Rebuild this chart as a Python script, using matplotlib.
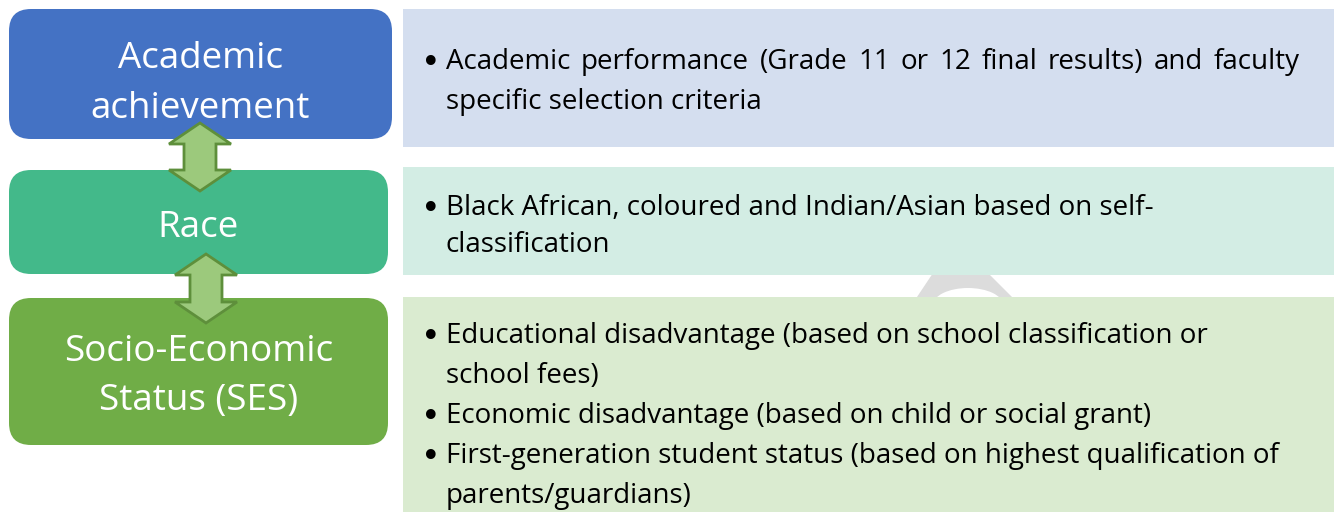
import matplotlib
matplotlib.use("Agg")
import matplotlib.pyplot as plt
from matplotlib.patches import FancyBboxPatch, Polygon, Rectangle, Ellipse

# categories (left boxes) and their criteria (right boxes)
categories = ["Academic\nachievement", "Race", "Socio-Economic\nStatus (SES)"]
criteria = [
    [["Academic performance (Grade 11 or 12 final results) and faculty",
      "specific selection criteria"]],
    [["Black African, coloured and Indian/Asian based on self-",
      "classification"]],
    [["Educational disadvantage (based on school classification or",
      "school fees)"],
     ["Economic disadvantage (based on child or social grant)"],
     ["First-generation student status (based on highest qualification of",
      "parents/guardians)"]],
]
justify_first = [True, False, False]

# layout (pixels)
W, H = 1341, 512
left_boxes = [(9, 9, 383, 130), (9, 170, 379, 104), (9, 298, 379, 147)]
label_shift = [10, 6, 5]
right_boxes = [(403, 9, 931, 138), (403, 167, 931, 108), (403, 297, 931, 230)]
baseline_top = [69, 215, 343]
line_step = [40, 37, 40]
dark = ["#4472C4", "#43B98A", "#70AD47"]
light = ["#D4DEEF", "#D3EDE4", "#DAEBD0"]
arrows = [(200, 123, 191), (206, 254, 323)]
FONT = "Open Sans"
FS = 20

fig = plt.figure(figsize=(W / 100, H / 100), dpi=100)
ax = fig.add_axes([0, 0, 1, 1])
ax.set_xlim(0, W)
ax.set_ylim(H, 0)
ax.axis("off")

# faint watermark behind the boxes
ax.add_patch(Polygon([(935, 270), (985, 270), (1015, 300), (915, 300)],
                     closed=True, fc="#DCDCDC", ec="none", zorder=0))
ax.add_patch(Ellipse((968, 305), 70, 34, fc="white", ec="none", zorder=0.5))

for (x, y, w, h), c in zip(right_boxes, light):
    ax.add_patch(Rectangle((x, y), w, h, fc=c, ec="none", zorder=1))

for (x, y, w, h), c, label, dy in zip(left_boxes, dark, categories, label_shift):
    ax.add_patch(FancyBboxPatch((x, y), w, h,
                                boxstyle="round,pad=0,rounding_size=22",
                                fc=c, ec="none", zorder=2))
    ax.text(x + w / 2, y + h / 2 + dy, label, color="white", fontsize=26.5,
            family=FONT, ha="center", va="center", linespacing=1.5,
            zorder=3)

fig.canvas.draw()
renderer = fig.canvas.get_renderer()


def draw_line(x0, x1, y, s, justify):
    if not justify:
        ax.text(x0, y, s, fontsize=FS, family=FONT, va="baseline",
                color="black", zorder=4)
        return
    words = s.split(" ")
    widths = []
    for wd in words:
        t = ax.text(0, 0, wd, fontsize=FS, family=FONT)
        widths.append(t.get_window_extent(renderer).width)
        t.remove()
    gap = (x1 - x0 - sum(widths)) / (len(words) - 1)
    xx = x0
    for wd, ww in zip(words, widths):
        ax.text(xx, y, wd, fontsize=FS, family=FONT, va="baseline",
                color="black", zorder=4)
        xx += ww + gap


for i, items in enumerate(criteria):
    y = baseline_top[i]
    for item in items:
        ax.text(431, y + 4, "\u2022", fontsize=24, family="DejaVu Sans",
                ha="center", va="baseline", zorder=4)
        for j, line in enumerate(item):
            draw_line(446, 1300, y, line, justify_first[i] and j == 0)
            y += line_step[i]

# double-headed connector arrows
for cx, top, bot in arrows:
    hw, sw, hh = 31, 16, 21
    pts = [(cx, top), (cx + hw, top + hh), (cx + sw, top + hh),
           (cx + sw, bot - hh), (cx + hw, bot - hh), (cx, bot),
           (cx - hw, bot - hh), (cx - sw, bot - hh), (cx - sw, top + hh),
           (cx - hw, top + hh)]
    ax.add_patch(Polygon(pts, closed=True, fc="#9CC97C", ec="#5E8F3B",
                         lw=2, joinstyle="miter", zorder=5))

fig.savefig("out.png", dpi=100)
